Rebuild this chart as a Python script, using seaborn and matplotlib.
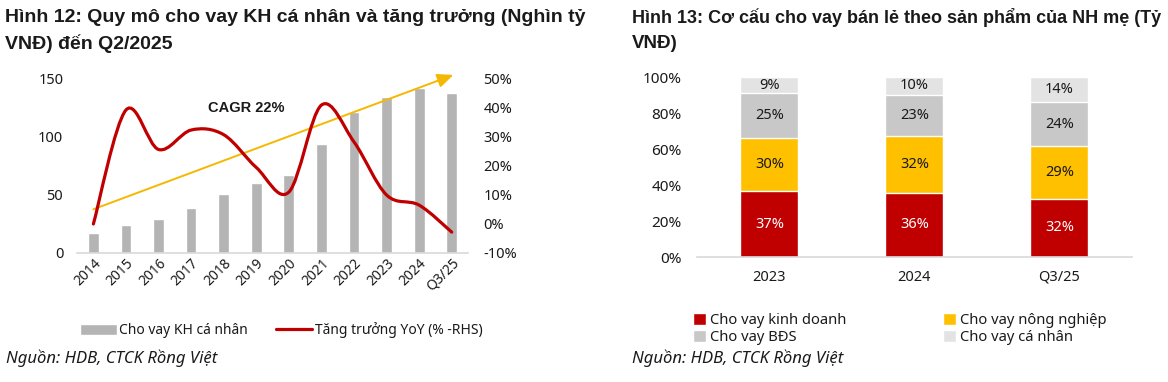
import numpy as np
import pandas as pd
import seaborn as sns
import matplotlib.pyplot as plt
from matplotlib.path import Path
from matplotlib.patches import PathPatch, Patch
from matplotlib.lines import Line2D
from matplotlib.ticker import FuncFormatter

# Hình 12 data
periods = ["2014", "2015", "2016", "2017", "2018", "2019", "2020",
           "2021", "2022", "2023", "2024", "Q3/25"]
retail_loans = [17.6, 23.9, 29.7, 38.9, 50.7, 60.5, 67.1, 93.6, 121.2, 134.5, 142.0, 137.9]
yoy_growth = [0.0, 39.3, 25.7, 32.4, 30.8, 19.5, 11.0, 41.0, 28.3, 10.0, 6.5, -2.8]  # %

# Hình 13 data
mix_periods = ["2023", "2024", "Q3/25"]
mix_names = ["Cho vay kinh doanh", "Cho vay nông nghiệp", "Cho vay BĐS", "Cho vay cá nhân"]
mix_business = [37, 36, 32]
mix_agri = [30, 32, 29]
mix_realestate = [25, 23, 24]
mix_personal = [9, 10, 14]
mix_colors = ["#C00000", "#FFC000", "#C8C8C8", "#E3E3E3"]

BODY = ["Noto Sans", "DejaVu Sans"]
TITLE = ["Liberation Sans", "DejaVu Sans"]

sns.set_theme(style="white")
plt.rcParams["font.family"] = BODY
plt.rcParams["text.color"] = "#1a1a1a"
plt.rcParams["xtick.color"] = "#1a1a1a"
plt.rcParams["ytick.color"] = "#1a1a1a"


def smooth_path(xs, ys):
    """Excel-like smoothed line as cubic bezier segments through the data points."""
    n = len(xs)
    verts = [(xs[0], ys[0])]
    codes = [Path.MOVETO]
    for i in range(n - 1):
        x0, y0 = xs[max(i - 1, 0)], ys[max(i - 1, 0)]
        x1, y1 = xs[i], ys[i]
        x2, y2 = xs[i + 1], ys[i + 1]
        x3, y3 = xs[min(i + 2, n - 1)], ys[min(i + 2, n - 1)]
        verts += [(x1 + (x2 - x0) / 6, y1 + (y2 - y0) / 6),
                  (x2 - (x3 - x1) / 6, y2 - (y3 - y1) / 6),
                  (x2, y2)]
        codes += [Path.CURVE4] * 3
    return Path(verts, codes)


fig = plt.figure(figsize=(11.68, 3.82), dpi=100)

# ---------------- left chart ----------------
ax1 = fig.add_axes([0.066, 0.3377, 0.3347, 0.4555])
df1 = pd.DataFrame({"period": periods, "loans": retail_loans})
sns.barplot(data=df1, x="period", y="loans", color="#B4B4B4", saturation=1,
            width=0.33, ax=ax1)
ax1.set_xlim(-0.5, 11.5)
ax1.set_ylim(0, 150)
ax1.set_yticks([0, 50, 100, 150])
ax1.set_xlabel("")
ax1.set_ylabel("")
for s in ["top", "right", "left"]:
    ax1.spines[s].set_visible(False)
ax1.spines["bottom"].set_color("#D9D9D9")
ax1.spines["bottom"].set_linewidth(1.2)
ax1.tick_params(axis="y", length=0, pad=10, labelsize=10.5)
ax1.tick_params(axis="x", length=0, pad=2, labelsize=10)
for lab in ax1.get_xticklabels():
    lab.set_rotation(45)
    lab.set_ha("right")
    lab.set_rotation_mode("anchor")

ax2 = ax1.twinx()
ax2.set_ylim(-10, 50)
ax2.set_yticks([-10, 0, 10, 20, 30, 40, 50])
ax2.yaxis.set_major_formatter(FuncFormatter(lambda v, p: f"{v:.0f}%"))
for s in ax2.spines.values():
    s.set_visible(False)
ax2.tick_params(axis="y", length=0, pad=11, labelsize=10.5)
xs = np.arange(len(periods))
ax2.add_patch(PathPatch(smooth_path(xs, yoy_growth), facecolor="none",
                        edgecolor="#C00000", linewidth=2.3, capstyle="round"))

# CAGR arrow
ax1.annotate("", xy=(11.05, 153.5), xytext=(0, 37.7), xycoords="data",
             annotation_clip=False,
             arrowprops=dict(arrowstyle="-|>,head_length=0.8,head_width=0.35",
                             color="#F5B800", lw=1.4, shrinkA=0, shrinkB=0))
ax1.text(4.7, 125, "CAGR 22%", ha="center", va="center", fontsize=10.5,
         fontweight="bold", family=TITLE)

fig.legend(handles=[Patch(facecolor="#B4B4B4", label="Cho vay KH cá nhân"),
                    Line2D([], [], color="#C00000", lw=2.3, label="Tăng trưởng YoY (% -RHS)")],
           loc="center", bbox_to_anchor=(0.241, 0.135), ncol=2, frameon=False,
           fontsize=10, handlelength=2.6, handleheight=0.9, handletextpad=0.2,
           columnspacing=2.0)

# ---------------- right chart ----------------
ax3 = fig.add_axes([0.5967, 0.3272, 0.3724, 0.4712])
mix = np.array([mix_business, mix_agri, mix_realestate, mix_personal], dtype=float)
shares = mix / mix.sum(axis=0) * 100
cum = np.cumsum(shares, axis=0)
for i in range(len(mix_names) - 1, -1, -1):
    sns.barplot(x=mix_periods, y=cum[i], color=mix_colors[i], saturation=1,
                width=0.4, ax=ax3)
for j in range(len(mix_periods)):
    for i in range(len(mix_names)):
        mid = cum[i, j] - shares[i, j] / 2
        ax3.text(j, mid, f"{mix[i, j]:.0f}%", ha="center", va="center", fontsize=10.5,
                 color="white" if i == 0 else "#1a1a1a")
ax3.set_xlim(-0.5, 2.5)
ax3.set_ylim(0, 100)
ax3.set_yticks(np.arange(0, 101, 20))
ax3.yaxis.set_major_formatter(FuncFormatter(lambda v, p: f"{v:.0f}%"))
for s in ["top", "right", "left"]:
    ax3.spines[s].set_visible(False)
ax3.spines["bottom"].set_color("#D9D9D9")
ax3.spines["bottom"].set_linewidth(1.2)
ax3.tick_params(axis="y", length=0, pad=11, labelsize=11)
ax3.tick_params(axis="x", length=0, pad=9, labelsize=10.5)
ax3.set_xlabel("")
ax3.set_ylabel("")

# legend reads row-wise in the reference: reorder for column-wise fill
order = [0, 2, 1, 3]
fig.legend(handles=[Patch(facecolor=mix_colors[k], label=mix_names[k]) for k in order],
           loc="upper left", bbox_to_anchor=(0.582, 0.215), ncol=2, frameon=False,
           fontsize=10.6, handlelength=0.85, handleheight=0.85, handletextpad=0.3,
           columnspacing=6.6, labelspacing=0.15)

# ---------------- titles & sources ----------------
fig.text(0.004, 0.955, "Hình 12: Quy mô cho vay KH cá nhân và tăng trưởng (Nghìn tỷ",
         family=TITLE, fontweight="bold", fontsize=14, va="center")
fig.text(0.004, 0.887, "VNĐ) đến Q2/2025", family=TITLE, fontweight="bold",
         fontsize=14, va="center")
fig.text(0.541, 0.955, "Hình 13: Cơ cấu cho vay bán lẻ theo sản phẩm của NH mẹ (Tỷ",
         family=TITLE, fontweight="bold", fontsize=13, va="center")
fig.text(0.541, 0.887, "VNĐ)", family=TITLE, fontweight="bold", fontsize=13.5, va="center")
fig.text(0.005, 0.063, "Nguồn: HDB, CTCK Rồng Việt", fontsize=12, style="italic",
         va="center")
fig.text(0.541, 0.063, "Nguồn: HDB, CTCK Rồng Việt", fontsize=12, style="italic",
         va="center")

fig.savefig("out.png", dpi=100, facecolor="white")
